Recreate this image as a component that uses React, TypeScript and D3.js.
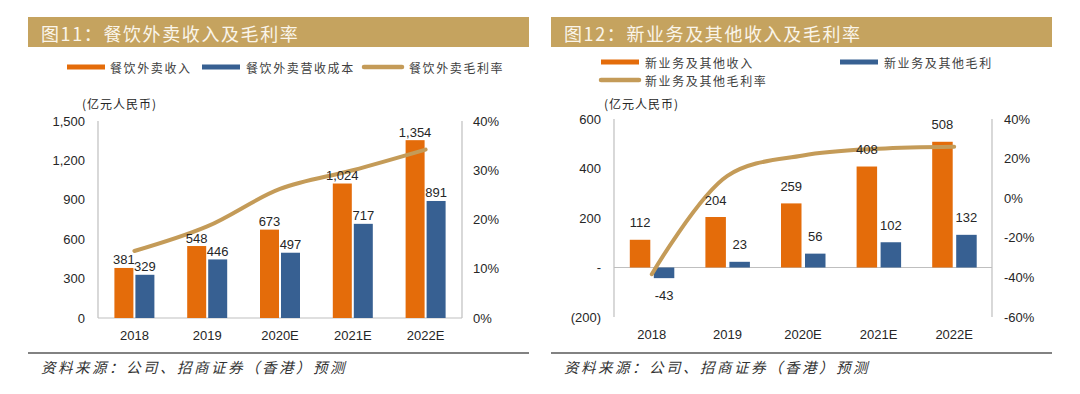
import React from "react";
import * as d3 from "d3";

const years = ["2018", "2019", "2020E", "2021E", "2022E"];

const foodRevenue = [381, 548, 673, 1024, 1354];
const foodCost = [329, 446, 497, 717, 891];
const foodMargin = [13.6, 18.6, 26.2, 30.0, 34.2];
const foodTicks = [0, 300, 600, 900, 1200, 1500];
const foodPctTicks = [0, 10, 20, 30, 40];

const newRevenue = [112, 204, 259, 408, 508];
const newProfit = [-43, 23, 56, 102, 132];
const newMargin = [-38.4, 11.3, 21.6, 25.0, 26.0];
const newTicks = [-200, 0, 200, 400, 600];
const newPctTicks = [-60, -40, -20, 0, 20, 40];

const leftTitle = "图11：餐饮外卖收入及毛利率";
const rightTitle = "图12：新业务及其他收入及毛利率";
const leftLegend = ["餐饮外卖收入", "餐饮外卖营收成本", "餐饮外卖毛利率"];
const rightLegend = ["新业务及其他收入", "新业务及其他毛利", "新业务及其他毛利率"];
const unitLabel = "(亿元人民币)";
const sourceText = "资料来源：公司、招商证券（香港）预测";

const ORANGE = "#E46C0A";
const BLUE = "#376092";
const TAN = "#C49B58";
const BAR_BG = "#C5A35F";
const AXIS = "#BFBFBF";
const TEXT = "#262626";
const NUM_FONT = "'Liberation Sans', Arial, sans-serif";
const CJK_FONT = "'Noto Sans CJK SC', 'Noto Sans', sans-serif";

const fmtComma = (v: number) => d3.format(",")(v).replace("\u2212", "-");

type Cfg = {
  panelL: number;
  panelR: number;
  title: string;
  legend: string[];
  legendPos: { x: number; y: number; tx: number }[];
  plotL: number;
  plotR: number;
  plotT: number;
  plotB: number;
  yDomain: [number, number];
  y2Domain: [number, number];
  ticks: number[];
  pctTicks: number[];
  fmt: (v: number) => string;
  revenue: number[];
  second: number[];
  margin: number[];
  barW: number;
  gapL: number;
  gapR: number;
  labelAbove: number;
  labelBelow: number;
  catY: number;
  leftLabelX: number;
  rightLabelX: number;
  unitX: number;
};

function Panel({ c }: { c: Cfg }) {
  const x = d3.scaleBand<string>().domain(years).range([c.plotL, c.plotR]);
  const y = d3.scaleLinear().domain(c.yDomain).range([c.plotB, c.plotT]);
  const y2 = d3.scaleLinear().domain(c.y2Domain).range([c.plotB, c.plotT]);
  const cx = (yr: string) => (x(yr) as number) + x.bandwidth() / 2;
  const line = d3
    .line<number>()
    .x((_, i) => cx(years[i]))
    .y((v) => y2(v))
    .curve(d3.curveCatmullRom.alpha(0.5));
  const zeroY = y(0);
  const legendColors = [ORANGE, BLUE, TAN];

  return (
    <g>
      {/* title bar */}
      <rect x={c.panelL} y={17} width={c.panelR - c.panelL} height={30} fill={BAR_BG} />
      <text
        x={c.panelL + 13}
        y={32.5}
        dominantBaseline="central"
        fontFamily={CJK_FONT}
        fontSize={18}
        letterSpacing={1.6}
        fill="#FAF5EA"
      >
        {c.title}
      </text>

      {/* legend */}
      {c.legend.map((t, i) => (
        <g key={t}>
          <line
            x1={c.legendPos[i].x}
            x2={c.legendPos[i].x + 38}
            y1={c.legendPos[i].y}
            y2={c.legendPos[i].y}
            stroke={legendColors[i]}
            strokeWidth={i === 2 ? 4.5 : 5}
            strokeLinecap={i === 2 ? "round" : "butt"}
          />
          <text
            x={c.legendPos[i].tx}
            y={c.legendPos[i].y}
            dominantBaseline="central"
            fontFamily={CJK_FONT}
            fontSize={12}
            letterSpacing={1.6}
            fill="#404040"
          >
            {t}
          </text>
        </g>
      ))}

      <text
        x={c.unitX}
        y={103}
        dominantBaseline="central"
        fontFamily={CJK_FONT}
        fontSize={12}
        letterSpacing={1}
        fill={TEXT}
      >
        {unitLabel}
      </text>

      {/* axes */}
      <line x1={c.plotL} x2={c.plotL} y1={c.plotT} y2={c.plotB} stroke={AXIS} strokeWidth={1.2} />
      <line x1={c.plotR} x2={c.plotR} y1={c.plotT} y2={c.plotB} stroke={AXIS} strokeWidth={1.2} />
      <line x1={c.plotL} x2={c.plotR} y1={zeroY} y2={zeroY} stroke={AXIS} strokeWidth={1.2} />

      {c.ticks.map((t) => (
        <text
          key={"l" + t}
          x={c.leftLabelX}
          y={y(t)}
          textAnchor="end"
          dominantBaseline="central"
          fontFamily={NUM_FONT}
          fontSize={13}
          fill={TEXT}
        >
          {c.fmt(t)}
        </text>
      ))}
      {c.pctTicks.map((t) => (
        <text
          key={"r" + t}
          x={c.rightLabelX}
          y={y2(t)}
          dominantBaseline="central"
          fontFamily={NUM_FONT}
          fontSize={13}
          fill={TEXT}
        >
          {t + "%"}
        </text>
      ))}
      {years.map((yr) => (
        <text
          key={"c" + yr}
          x={cx(yr)}
          y={c.catY}
          textAnchor="middle"
          dominantBaseline="central"
          fontFamily={NUM_FONT}
          fontSize={13}
          fill={TEXT}
        >
          {yr}
        </text>
      ))}

      {/* bars */}
      {years.map((yr, i) => {
        const ox = cx(yr) - c.gapL - c.barW;
        const bx = cx(yr) + c.gapR;
        const rv = c.revenue[i];
        const sv = c.second[i];
        return (
          <g key={"b" + yr}>
            <rect
              x={ox}
              y={Math.min(y(rv), zeroY)}
              width={c.barW}
              height={Math.abs(y(rv) - zeroY)}
              fill={ORANGE}
            />
            <rect
              x={bx}
              y={Math.min(y(sv), zeroY)}
              width={c.barW}
              height={Math.abs(y(sv) - zeroY)}
              fill={BLUE}
            />
          </g>
        );
      })}

      {/* margin line */}
      <path
        d={line(c.margin) as string}
        fill="none"
        stroke={TAN}
        strokeWidth={4}
        strokeLinecap="round"
        strokeLinejoin="round"
      />

      {/* value labels */}
      {years.map((yr, i) => {
        const ox = cx(yr) - c.gapL - c.barW / 2;
        const bx = cx(yr) + c.gapR + c.barW / 2;
        const rv = c.revenue[i];
        const sv = c.second[i];
        const ly = (v: number) => (v >= 0 ? y(v) - c.labelAbove : y(v) + c.labelBelow);
        return (
          <g key={"v" + yr} fontFamily={NUM_FONT} fontSize={13} fill={TEXT} textAnchor="middle">
            <text x={ox} y={ly(rv)} dominantBaseline="central">
              {fmtComma(rv)}
            </text>
            <text x={bx} y={ly(sv)} dominantBaseline="central">
              {fmtComma(sv)}
            </text>
          </g>
        );
      })}

      {/* footer */}
      <line x1={c.panelL} x2={c.panelR} y1={353} y2={353} stroke="#595959" strokeWidth={1.5} />
      <text
        x={c.panelL + 13}
        y={366}
        dominantBaseline="central"
        fontFamily={CJK_FONT}
        fontStyle="italic"
        fontSize={14.5}
        letterSpacing={2.5}
        fill="#333333"
      >
        {sourceText}
      </text>
    </g>
  );
}

const leftCfg: Cfg = {
  panelL: 28,
  panelR: 529,
  title: leftTitle,
  legend: leftLegend,
  legendPos: [
    { x: 67, y: 67, tx: 110 },
    { x: 202, y: 67, tx: 246 },
    { x: 364, y: 67, tx: 409 },
  ],
  plotL: 98,
  plotR: 462,
  plotT: 121,
  plotB: 318,
  yDomain: [0, 1500],
  y2Domain: [0, 40],
  ticks: foodTicks,
  pctTicks: foodPctTicks,
  fmt: (v) => fmtComma(v),
  revenue: foodRevenue,
  second: foodCost,
  margin: foodMargin,
  barW: 19,
  gapL: 1,
  gapR: 1,
  labelAbove: 8,
  labelBelow: 17,
  catY: 335,
  leftLabelX: 85,
  rightLabelX: 473,
  unitX: 82,
};

const rightCfg: Cfg = {
  panelL: 551,
  panelR: 1052,
  title: rightTitle,
  legend: rightLegend,
  legendPos: [
    { x: 601, y: 62, tx: 645 },
    { x: 840, y: 62, tx: 884 },
    { x: 601, y: 80, tx: 645 },
  ],
  plotL: 614,
  plotR: 992,
  plotT: 119,
  plotB: 317,
  yDomain: [-200, 600],
  y2Domain: [-60, 40],
  ticks: newTicks,
  pctTicks: newPctTicks,
  fmt: (v) => (v === 0 ? "-" : v < 0 ? `(${-v})` : String(v)),
  revenue: newRevenue,
  second: newProfit,
  margin: newMargin,
  barW: 20.5,
  gapL: 1.5,
  gapR: 2,
  labelAbove: 17,
  labelBelow: 17,
  catY: 334,
  leftLabelX: 601,
  rightLabelX: 1004,
  unitX: 604,
};

export default function App() {
  return (
    <svg
      width={1080}
      height={394}
      viewBox="0 0 1080 394"
      style={{ position: "absolute", left: 0, top: 0, background: "#fff" }}
    >
      <rect width={1080} height={394} fill="#fff" />
      <Panel c={leftCfg} />
      <Panel c={rightCfg} />
    </svg>
  );
}
